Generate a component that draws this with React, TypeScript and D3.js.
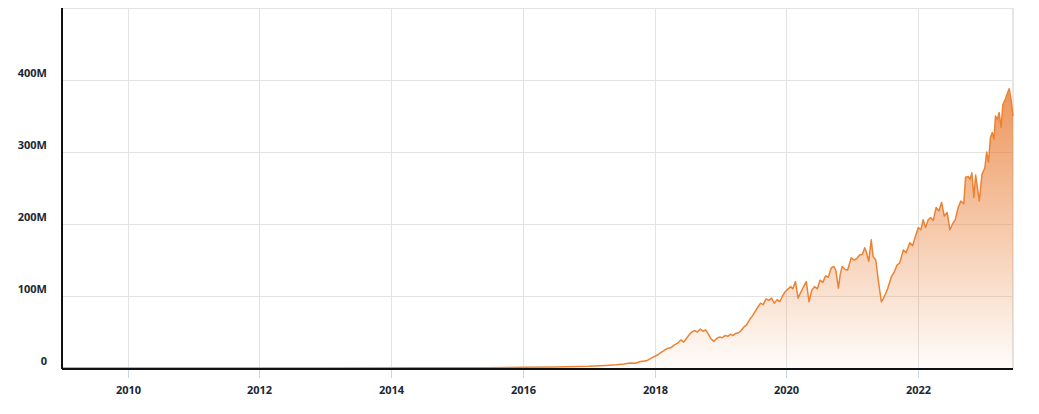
import React from "react";
import * as d3 from "d3";

const dates: string[] = [
  "2009-01-01","2011-01-01","2013-01-01","2014-06-01","2015-06-01","2016-01-01","2016-07-01","2017-01-01","2017-04-01","2017-06-01",
  "2017-07-15","2017-08-15","2017-09-15","2017-10-15","2017-11-15","2017-12-15","2018-01-15","2018-02-01","2018-02-20","2018-03-10",
  "2018-03-30","2018-04-20","2018-05-10","2018-05-25","2018-06-10","2018-06-25","2018-07-10","2018-07-25","2018-08-10","2018-08-25",
  "2018-09-10","2018-09-25","2018-10-10","2018-10-25","2018-11-10","2018-11-25","2018-12-10","2018-12-25","2019-01-10","2019-01-25",
  "2019-02-10","2019-02-25","2019-03-10","2019-03-25","2019-04-10","2019-04-25","2019-05-10","2019-05-25","2019-06-10","2019-06-25",
  "2019-07-10","2019-07-25","2019-08-10","2019-08-25","2019-09-10","2019-09-25","2019-10-10","2019-10-25","2019-11-10","2019-11-25",
  "2019-12-10","2019-12-25","2020-01-10","2020-01-25","2020-02-05","2020-02-20","2020-03-05","2020-03-20","2020-04-05","2020-04-20",
  "2020-05-05","2020-05-20","2020-06-05","2020-06-20","2020-07-05","2020-07-20","2020-08-05","2020-08-20","2020-09-05","2020-09-20",
  "2020-10-01","2020-10-15","2020-10-25","2020-11-05","2020-11-20","2020-12-05","2020-12-25","2021-01-10","2021-01-25","2021-02-10",
  "2021-02-25","2021-03-10","2021-03-20","2021-04-01","2021-04-15","2021-04-25","2021-05-10","2021-05-25","2021-06-10","2021-06-20",
  "2021-07-01","2021-07-15","2021-08-05","2021-08-20","2021-09-05","2021-09-20","2021-10-10","2021-10-25","2021-11-15","2021-12-01",
  "2021-12-10","2022-01-01","2022-01-15","2022-01-28","2022-02-10","2022-02-25","2022-03-10","2022-03-25","2022-04-10","2022-04-25",
  "2022-05-10","2022-05-25","2022-06-10","2022-06-25","2022-07-10","2022-07-25","2022-08-10","2022-08-25","2022-09-10","2022-09-20",
  "2022-10-05","2022-10-15","2022-10-25","2022-11-05","2022-11-15","2022-11-25","2022-12-05","2022-12-20","2023-01-05","2023-01-15",
  "2023-01-25","2023-02-05","2023-02-15","2023-02-25","2023-03-05","2023-03-15","2023-03-25","2023-04-05","2023-04-15","2023-04-25",
  "2023-05-05","2023-05-20","2023-06-01","2023-06-10"
];

const valuesM: number[] = [
  0,0,0.05,0.2,0.5,1,1.5,2.5,3.5,4.5,
  5.5,7,6.5,9,10,14,18,21,24,27,
  28,32,35,39,36,41,46,50,52,50,
  54,51,53,47,40,37,41,43,42,45,
  44,47,45,48,49,52,57,60,67,72,
  78,84,90,88,96,94,97,90,95,92,
  100,106,110,113,110,120,97,105,113,120,
  92,108,113,110,122,119,128,126,139,141,
  135,111,130,141,137,136,153,150,152,157,
  158,167,160,148,178,155,150,120,92,96,
  102,110,127,133,143,146,164,160,174,170,
  178,195,192,206,195,206,209,205,223,218,
  230,211,216,192,200,206,223,232,228,265,
  266,262,271,237,268,250,232,269,278,300,
  286,320,327,318,350,345,355,334,366,371,
  378,388,370,350
];

const yTicks: number[] = [0, 100, 200, 300, 400];
const yTickLabels: string[] = ["0", "100M", "200M", "300M", "400M"];
const xTickYears: number[] = [2010, 2012, 2014, 2016, 2018, 2020, 2022];

export default function App() {
  const W = 1039, H = 414;
  const left = 62, right = 1013, top = 8, bottom = 368;
  const parse = d3.timeParse("%Y-%m-%d");
  const data = dates.map((d, i) => ({ date: parse(d) as Date, v: valuesM[i] }));
  const x = d3.scaleTime().domain([parse("2009-01-01") as Date, parse("2023-06-10") as Date]).range([left, right]);
  const y = d3.scaleLinear().domain([0, 500]).range([bottom, top]);
  const line = d3.line<{ date: Date; v: number }>().x(d => x(d.date)).y(d => y(d.v));
  const area = d3.area<{ date: Date; v: number }>().x(d => x(d.date)).y0(y(0)).y1(d => y(d.v));
  const font = "'Open Sans', 'Noto Sans', sans-serif";
  const labelColor = "#1a2736";
  return (
    <svg width={W} height={H} style={{ position: "absolute", left: 0, top: 0, background: "#fff" }}>
      <defs>
        <linearGradient id="fillGrad" gradientUnits="userSpaceOnUse" x1="0" y1={top} x2="0" y2={bottom}>
          <stop offset="0" stopColor="#e8782c" stopOpacity={1} />
          <stop offset="1" stopColor="#e8782c" stopOpacity={0.02} />
        </linearGradient>
      </defs>
      {yTicks.map(t => (
        <line key={"gy" + t} x1={left} x2={right} y1={Math.round(y(t)) + 0.5} y2={Math.round(y(t)) + 0.5} stroke="#e3e3e3" strokeWidth={1} />
      ))}
      <line x1={left} x2={right} y1={top + 0.5} y2={top + 0.5} stroke="#e3e3e3" strokeWidth={1} />
      <line x1={right} x2={right} y1={top} y2={bottom} stroke="#dcdcdc" strokeWidth={1.5} />
      {xTickYears.map(yr => {
        const xx = Math.round(x(new Date(yr, 0, 1))) + 0.5;
        return (
          <g key={"gx" + yr}>
            <line x1={xx} x2={xx} y1={top} y2={bottom} stroke="#e3e3e3" strokeWidth={1} />
            <line x1={xx} x2={xx} y1={bottom} y2={bottom + 10} stroke="#ccd6eb" strokeWidth={1} />
            <text x={xx} y={bottom + 26} textAnchor="middle" fontFamily={font} fontWeight={700} fontSize={11} fill={labelColor}>{yr}</text>
          </g>
        );
      })}
      <path d={area(data) || ""} fill="url(#fillGrad)" />
      <path d={line(data) || ""} fill="none" stroke="#ec8333" strokeWidth={1.5} strokeLinejoin="round" />
      <line x1={left} x2={left} y1={top} y2={bottom + 1} stroke="#111" strokeWidth={2} />
      <line x1={left} x2={right} y1={bottom + 1} y2={bottom + 1} stroke="#111" strokeWidth={2} />
      {yTicks.map((t, i) => (
        <text key={"ly" + t} x={47} y={y(t) - 3} textAnchor="end" fontFamily={font} fontWeight={700} fontSize={11} fill={labelColor}>{yTickLabels[i]}</text>
      ))}
    </svg>
  );
}
